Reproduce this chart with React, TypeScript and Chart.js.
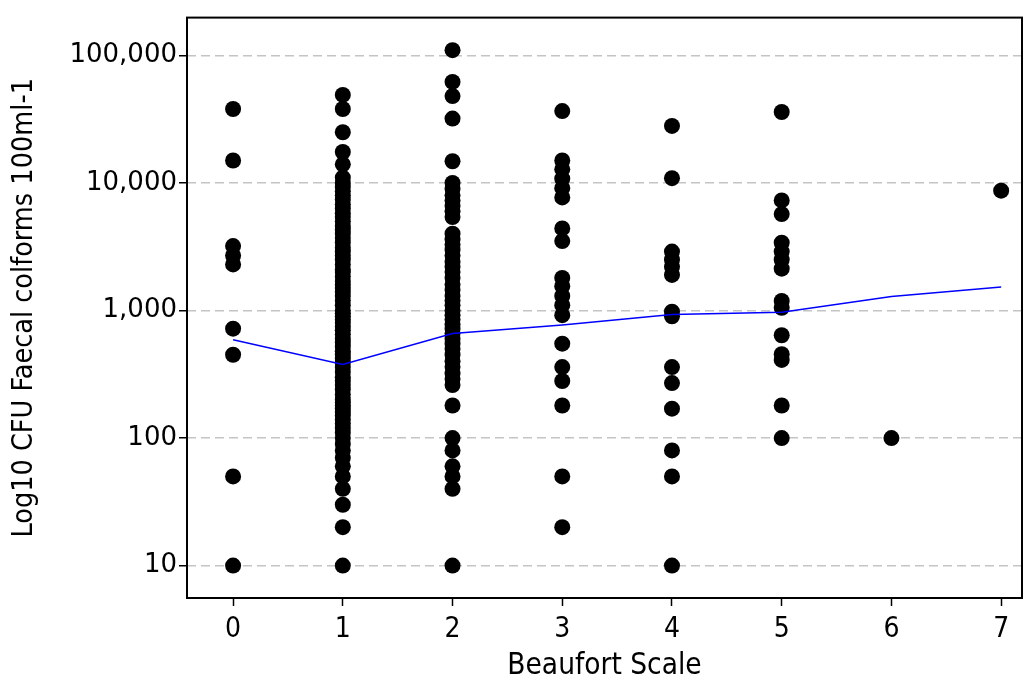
import { useEffect, useRef } from "react";
import { Chart, registerables } from "chart.js";

Chart.register(...registerables);

// Beaufort scale categories (x axis)
const beaufortCategories = [0, 1, 2, 3, 4, 5, 6, 7];
// Y tick labels (log scale)
const yTickValues = [10, 100, 1000, 10000, 100000];

// CFU values observed per Beaufort category
const cfuBeaufort0 = [38000, 15000, 3200, 2700, 2300, 720, 450, 50, 10];
const cfuBeaufort1 = [
  49000, 38000, 25000, 17500, 14000, 11000, 10000, 9300, 8600, 8000, 7400, 6800, 6300, 5800, 5400,
  5000, 4600, 4300, 4000, 3700, 3400, 3100, 2900, 2700, 2500, 2300, 2100, 2000, 1850, 1700, 1600,
  1500, 1400, 1300, 1200, 1100, 1000, 950, 900, 850, 800, 750, 700, 650, 600, 560, 520, 480, 450,
  420, 390, 360, 330, 300, 280, 260, 240, 220, 200, 190, 180, 170, 160, 150, 140, 130, 120, 110,
  100, 90, 80, 70, 60, 50, 40, 30, 20, 10,
];
const cfuBeaufort2 = [
  110000, 62000, 48000, 32000, 14800, 10000, 9000, 8000, 7300, 6600, 6000, 5400, 4000, 3600, 3300,
  3000, 2700, 2400, 2200, 2000, 1800, 1600, 1450, 1300, 1200, 1100, 1000, 920, 850, 780, 720, 660,
  600, 550, 500, 450, 400, 360, 320, 290, 260, 180, 100, 80, 60, 50, 40, 10,
];
const cfuBeaufort3 = [36600, 15000, 12800, 10800, 9100, 7700, 4400, 3500, 1800, 1550, 1300, 1100, 920, 550, 360, 280, 180, 50, 20];
const cfuBeaufort4 = [28000, 10900, 2900, 2500, 2200, 1900, 980, 900, 360, 270, 170, 80, 50, 10];
const cfuBeaufort5 = [36000, 7300, 5700, 3400, 2900, 2500, 2130, 1190, 1050, 640, 455, 410, 180, 100];
const cfuBeaufort6 = [100];
const cfuBeaufort7 = [8700];

// Mean line per category
const meanCfu = [590, 377, 660, 770, 930, 970, 1290, 1530];

const cfuByCategory = [
  cfuBeaufort0,
  cfuBeaufort1,
  cfuBeaufort2,
  cfuBeaufort3,
  cfuBeaufort4,
  cfuBeaufort5,
  cfuBeaufort6,
  cfuBeaufort7,
];

const condensed = "'DejaVu Sans Condensed', 'DejaVu Sans', sans-serif";
const regular = "'DejaVu Sans', Verdana, sans-serif";

const boxPlugin = {
  id: "boxPlugin",
  afterDatasetsDraw(chart: any) {
    const { ctx, chartArea } = chart;
    ctx.save();
    ctx.strokeStyle = "#000";
    ctx.lineWidth = 2;
    ctx.setLineDash([]);
    ctx.strokeRect(chartArea.left, chartArea.top, chartArea.right - chartArea.left, chartArea.bottom - chartArea.top);
    ctx.restore();
  },
};

export default function App() {
  const canvasRef = useRef<HTMLCanvasElement | null>(null);

  useEffect(() => {
    document.body.style.margin = "0";
    document.body.style.overflow = "hidden";
    const canvas = canvasRef.current;
    if (!canvas) return;

    const scatterPoints: { x: number; y: number }[] = [];
    beaufortCategories.forEach((cat, i) => {
      cfuByCategory[i].forEach((v) => scatterPoints.push({ x: cat, y: v }));
    });
    const linePoints = beaufortCategories.map((cat, i) => ({ x: cat, y: meanCfu[i] }));

    const chart = new Chart(canvas, {
      type: "scatter",
      data: {
        datasets: [
          {
            type: "scatter",
            data: scatterPoints,
            backgroundColor: "#000",
            borderWidth: 0,
            pointRadius: 8,
            pointHoverRadius: 8,
            order: 2,
          },
          {
            type: "line",
            data: linePoints,
            borderColor: "#0000ff",
            borderWidth: 1.5,
            pointRadius: 0,
            fill: false,
            tension: 0,
            order: 1,
          } as any,
        ],
      },
      plugins: [boxPlugin],
      options: {
        responsive: false,
        animation: false,
        events: [],
        layout: { padding: { top: 16, right: 10, left: 0, bottom: 0 } },
        plugins: { legend: { display: false }, tooltip: { enabled: false } },
        scales: {
          x: {
            type: "linear",
            min: -0.42,
            max: 7.19,
            afterFit: (scale: any) => {
              scale.height = 81;
            },
            afterBuildTicks: (scale: any) => {
              scale.ticks = beaufortCategories.map((v) => ({ value: v }));
            },
            border: { display: false },
            grid: {
              drawOnChartArea: false,
              drawTicks: true,
              tickLength: 8,
              tickWidth: 1.5,
              tickColor: "#000",
              tickBorderDash: [],
            },
            ticks: {
              color: "#000",
              padding: 7,
              font: { family: condensed, size: 28 },
              callback: (v: any) => String(v),
            },
            title: {
              display: true,
              text: "Beaufort Scale",
              color: "#000",
              font: { family: condensed, size: 29.5, lineHeight: 1 },
              padding: { top: 0, bottom: -2 },
            },
          },
          y: {
            type: "logarithmic",
            min: 5.57,
            max: 198000,
            afterFit: (scale: any) => {
              scale.width = 187;
            },
            afterBuildTicks: (scale: any) => {
              scale.ticks = yTickValues.map((v) => ({ value: v }));
            },
            border: { display: false, dash: [9, 5] },
            grid: {
              color: "#c4c4c4",
              lineWidth: 1.5,
              drawTicks: true,
              tickLength: 8,
              tickWidth: 1.5,
              tickColor: "#000",
              tickBorderDash: [],
            },
            ticks: {
              color: "#000",
              padding: 2,
              font: { family: regular, size: 26 },
              callback: (v: any) => Number(v).toLocaleString("en-US"),
            },
            title: {
              display: true,
              text: "Log10 CFU Faecal colforms 100ml-1",
              color: "#000",
              font: { family: condensed, size: 28.5, lineHeight: 1 },
              padding: { top: 10, bottom: 0 },
            },
          },
        },
      },
    });

    return () => chart.destroy();
  }, []);

  return (
    <div style={{ width: 1032, height: 679 }}>
      <canvas ref={canvasRef} width={1032} height={679} style={{ display: "block" }} />
    </div>
  );
}
